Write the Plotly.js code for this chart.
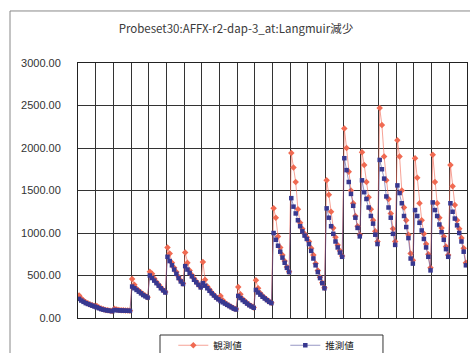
<!DOCTYPE html>
<html><head><meta charset="utf-8">
<script src="https://cdn.plot.ly/plotly-3.0.1.min.js"></script>
<style>html,body{margin:0;padding:0;background:#fff}#chart{width:470px;height:353px}</style>
</head><body><div id="chart"></div>
<script>
const chartTitle = "Probeset30:AFFX-r2-dap-3_at:Langmuir減少";
const seriesNames = ["観測値", "推測値"];
const yTickValues = [0, 500, 1000, 1500, 2000, 2500, 3000];

// 観測値 (observed), one line per group of 8 measurements
const observed = [
  265,230,205,185,175,160,150,140,
  140,125,112,102,95,90,86,82,
  110,100,95,92,90,88,87,86,
  460,390,345,320,300,280,262,245,
  545,520,465,425,390,360,330,305,
  830,760,650,590,540,485,440,405,
  770,650,560,505,465,430,395,365,
  660,450,370,335,300,270,245,225,
  260,210,180,160,145,130,115,105,
  365,280,225,200,175,155,140,125,
  445,350,290,260,235,215,195,180,
  1290,1180,960,830,740,670,600,545,
  1940,1770,1600,1280,1120,1050,990,950,
  900,820,740,640,560,480,415,355,
  1620,1450,1250,1060,950,860,790,730,
  2230,2000,1720,1500,1350,1200,1080,980,
  1950,1800,1600,1420,1280,1150,1020,900,
  2470,2270,1900,1620,1400,1230,1050,900,
  2090,1900,1500,1300,1150,980,760,680,
  1880,1650,1350,1150,990,870,750,590,
  1920,1600,1350,1180,1060,960,840,740,
  1800,1550,1330,1150,1050,940,820,650
];

// 推測値 (estimated)
const estimated = [
  225,205,190,175,165,155,145,135,
  125,115,105,98,92,88,84,80,
  95,92,90,88,87,86,85,84,
  370,350,330,310,290,270,255,240,
  500,470,440,410,380,350,325,300,
  720,670,620,570,520,470,430,400,
  610,570,530,490,450,420,390,360,
  410,380,350,320,290,265,240,220,
  200,185,170,155,140,125,110,100,
  260,235,210,190,170,150,135,120,
  330,300,275,250,230,210,190,175,
  1000,920,850,780,710,650,590,540,
  1410,1310,1230,1150,1080,1020,970,930,
  870,790,700,620,540,470,410,350,
  1290,1180,1080,990,900,830,770,720,
  1880,1740,1600,1460,1320,1180,1060,960,
  1620,1480,1400,1300,1200,1110,980,870,
  1860,1750,1640,1430,1300,1180,990,860,
  1560,1470,1350,1200,1070,940,700,640,
  1270,1200,1120,1030,930,830,720,560,
  1360,1270,1200,1100,1010,920,810,720,
  1350,1250,1170,1090,1000,900,780,620
];

const groupSize = 8;
const xIdx = observed.map((_, i) => i + 1);

const traces = [
  {
    x: xIdx, y: observed, name: seriesNames[0], type: 'scatter', mode: 'lines+markers',
    line: {color: 'rgba(240,100,80,0.6)', width: 1},
    marker: {symbol: 'diamond', size: 5, color: '#f06a52'}
  },
  {
    x: xIdx, y: estimated, name: seriesNames[1], type: 'scatter', mode: 'lines+markers',
    line: {color: 'rgba(50,50,140,0.5)', width: 1},
    marker: {symbol: 'square', size: 4.5, color: '#383890'}
  }
];

const layout = {
  width: 470, height: 353,
  margin: {l: 78, r: 3, t: 63, b: 35, autoexpand: false},
  paper_bgcolor: '#ffffff', plot_bgcolor: '#ffffff',
  showlegend: true,
  title: {
    text: chartTitle, x: 0.502, xanchor: 'center', y: 0.918, yanchor: 'middle',
    font: {family: 'Noto Sans CJK JP, Noto Sans, sans-serif', size: 11.5, color: '#3a3a3a'}
  },
  xaxis: {
    range: [0.5, xIdx.length + 0.5], tick0: 0.5, dtick: groupSize,
    showticklabels: false, ticks: '', showgrid: true, gridcolor: '#333', gridwidth: 1,
    zeroline: false, showline: true, mirror: true, linecolor: '#222', linewidth: 1
  },
  yaxis: {
    range: [0, 3000], tickvals: yTickValues, tickformat: '.2f',
    showgrid: true, gridcolor: '#333', gridwidth: 1, zeroline: false,
    showline: true, mirror: true, linecolor: '#222', linewidth: 1,
    ticks: '', ticklabelstandoff: 14,
    tickfont: {family: 'Liberation Sans, Arial, sans-serif', size: 11, color: '#333'}
  },
  legend: {
    orientation: 'h', x: 0.245, xanchor: 'left', y: -0.05, yanchor: 'top',
    borderwidth: 0, bgcolor: 'rgba(0,0,0,0)', entrywidth: 67,
    font: {family: 'Noto Sans CJK JP, sans-serif', size: 9.5, color: '#222'}
  },
  shapes: [
    {type: 'rect', xref: 'paper', yref: 'paper', x0: -0.1748, x1: 1.3, y0: -0.5, y1: 1.204,
     line: {color: '#888', width: 1}, fillcolor: 'rgba(0,0,0,0)', layer: 'below'},
    {type: 'rect', xref: 'paper', yref: 'paper', x0: 0.2108, x1: 0.784, y0: -0.2, y1: -0.0667,
     line: {color: '#333', width: 1}, fillcolor: 'rgba(0,0,0,0)', layer: 'below'}
  ]
};

Plotly.newPlot('chart', traces, layout, {staticPlot: true, displayModeBar: false});
</script>
</body></html>
